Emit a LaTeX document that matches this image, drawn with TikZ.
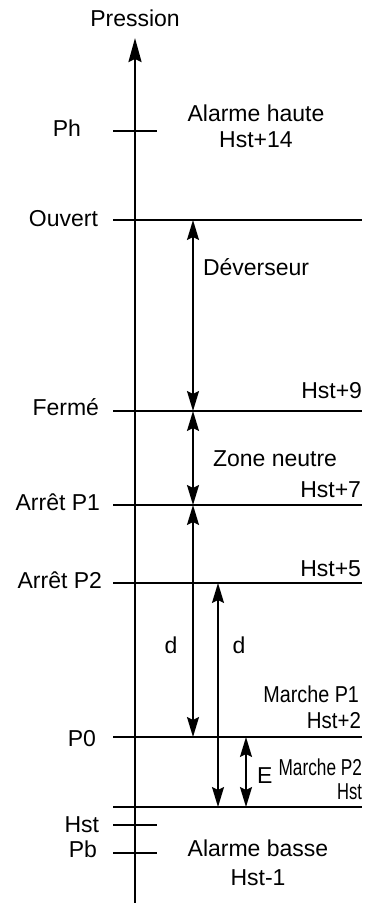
\documentclass[tikz,border=0pt]{standalone}
\usepackage{fontspec}
\setmainfont{Liberation Sans}
\usetikzlibrary{arrows.meta}
\begin{document}
\begin{tikzpicture}[x=1pt,y=-1pt,
  line width=2pt,
  lbl/.style={inner sep=0pt,font=\fontsize{23}{27}\selectfont},
  lft/.style={lbl,anchor=base east},
  rgt/.style={lbl,anchor=base east},
  ctr/.style={lbl,anchor=base},
  lw/.style={lbl,anchor=base west},
  tip/.style={Stealth[length=20pt,width=12pt,inset=3pt]},
  dim/.style={{Stealth[length=20pt,width=12pt,inset=3pt]}-{Stealth[length=20pt,width=12pt,inset=3pt]}, line width=1.8pt},
  lvl/.style={line width=2pt}]
\useasboundingbox (0,0) rectangle (377,903);
% axis
\coordinate (axb) at (135,903);
\coordinate (axt) at (135,38);
\draw[-{Stealth[length=24pt,width=13pt,inset=3pt]},line width=2.4pt] (axb) -- (axt);
\node[ctr] (pres) at (135,26) {Pression};
% level lines
\coordinate (phL) at (113,131); \coordinate (phR) at (157,131);
\coordinate (ouL) at (113,220); \coordinate (ouR) at (362,220);
\coordinate (feL) at (113,411); \coordinate (feR) at (362,411);
\coordinate (a1L) at (113,505); \coordinate (a1R) at (362,505);
\coordinate (a2L) at (113,583); \coordinate (a2R) at (362,583);
\coordinate (p0L) at (113,737); \coordinate (p0R) at (362,737);
\coordinate (boL) at (113,807); \coordinate (boR) at (362,807);
\coordinate (hsL) at (113,825); \coordinate (hsR) at (157,825);
\coordinate (pbL) at (113,853); \coordinate (pbR) at (157,853);
\foreach \a/\b in {phL/phR,ouL/ouR,feL/feR,a1L/a1R,a2L/a2R,p0L/p0R,boL/boR,hsL/hsR,pbL/pbR}
  \draw[lvl] (\a) -- (\b);
% dimension arrows
\coordinate (dv1) at (193,220); \coordinate (dv2) at (193,411);
\coordinate (zn2) at (193,505);
\coordinate (d1b) at (193,737);
\coordinate (d2t) at (218,583); \coordinate (d2b) at (218,807);
\coordinate (et) at (246,737); \coordinate (eb) at (246,807);
\draw[dim] (dv1) -- (dv2);
\draw[dim] (dv2) -- (zn2);
\draw[dim] (zn2) -- (d1b);
\draw[dim] (d2t) -- (d2b);
\draw[dim] (et) -- (eb);
% left labels
\node[lft] (tph) at (82,136) {Ph};
\node[lft] (tou) at (99,226) {Ouvert};
\node[lft] (tfe) at (100,415) {Fermé};
\node[lft] (ta1) at (101,510) {Arrêt P1};
\node[lft] (ta2) at (103,588) {Arrêt P2};
\node[lft] (tp0) at (97,746) {P0};
\node[lft] (ths) at (100,832) {Hst};
\node[lft] (tpb) at (98,857) {Pb};
% right labels
\node[ctr] (ah1) at (256,121) {Alarme haute};
\node[ctr] (ah2) at (256,147) {Hst+14};
\node[lw] (dev) at (202,275) {Déverseur};
\node[rgt] (h9) at (363,398) {Hst+9};
\node[lw] (zn) at (212,466) {Zone neutre};
\node[rgt] (h7) at (362,497) {Hst+7};
\node[rgt] (h5) at (362,576) {Hst+5};
\node[ctr] (dd1) at (171,653) {d};
\node[ctr] (dd2) at (239,653) {d};
\node[rgt] (mp1) at (360,702) {\scalebox{0.86}[1]{Marche P1}};
\node[rgt] (h2) at (362,728) {\scalebox{0.89}[1]{Hst+2}};
\node[lw] (te) at (256,783) {E};
\node[rgt] (mp2) at (363,775) {\scalebox{0.75}[1]{Marche P2}};
\node[rgt] (h0) at (363,799) {\scalebox{0.72}[1]{Hst}};
\node[ctr] (ab1) at (258,856) {Alarme basse};
\node[ctr] (ab2) at (258,885) {Hst-1};
\end{tikzpicture}
\end{document}
